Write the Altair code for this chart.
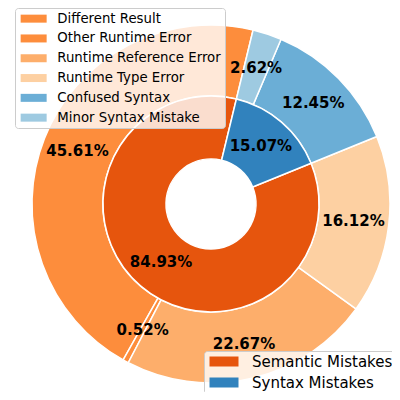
import math
import altair as alt
import pandas as pd

outer_labels = ["Different Result", "Other Runtime Error", "Runtime Reference Error",
                "Runtime Type Error", "Confused Syntax", "Minor Syntax Mistake"]
outer_values = [45.61, 0.52, 22.67, 16.12, 12.45, 2.62]
outer_colors = ["#fd8d3c", "#fd8d3c", "#fdae6b", "#fdd0a2", "#6baed6", "#9ecae1"]

inner_labels = ["Semantic Mistakes", "Syntax Mistakes"]
inner_values = [84.93, 15.07]
inner_colors = ["#e6550d", "#3182bd"]

outer_df = pd.DataFrame({
    "name": outer_labels,
    "value": outer_values,
    "ord": list(range(len(outer_labels) - 1, -1, -1)),
    "label": [f"{v:.2f}%" for v in outer_values],
})
inner_df = pd.DataFrame({
    "name": inner_labels,
    "value": inner_values,
    "ord": list(range(len(inner_labels) - 1, -1, -1)),
    "label": [f"{v:.2f}%" for v in inner_values],
})

CX, CY = 203, 196
a0 = math.radians(13.6)
theta_scale = alt.Scale(range=[a0, a0 + 2 * math.pi])

def theta():
    return alt.Theta("value:Q", stack=True, scale=theta_scale)

outer_arc = alt.Chart(outer_df).mark_arc(
    radius=179, radius2=108, x=CX, y=CY, stroke="white", strokeWidth=1.5
).encode(
    theta=theta(),
    order=alt.Order("ord:Q"),
    color=alt.Color(
        "name:N",
        scale=alt.Scale(domain=outer_labels, range=outer_colors),
        legend=alt.Legend(
            title=None, orient="none", legendX=7, legendY=0,
            fillColor="rgba(255,255,255,0.8)", strokeColor="#cccccc",
            cornerRadius=3, padding=4,
            symbolType="M-1,-0.8H4.2V0.8H-1Z", symbolSize=100,
            symbolStrokeWidth=0, symbolOpacity=1,
            labelFont="DejaVu Sans", labelFontSize=13.3, labelColor="black",
            labelOffset=25, rowPadding=5.8, labelLimit=0,
        ),
    ),
)

outer_text = alt.Chart(outer_df).mark_text(
    radius=143.5, x=CX, y=CY, font="DejaVu Sans", fontSize=15,
    fontWeight="bold", color="black", baseline="middle", align="center"
).encode(theta=theta(), order=alt.Order("ord:Q"), text="label:N")

inner_arc = alt.Chart(inner_df).mark_arc(
    radius=108, radius2=45, x=CX, y=CY, stroke="white", strokeWidth=1.5
).encode(
    theta=theta(),
    order=alt.Order("ord:Q"),
    color=alt.Color(
        "name:N",
        scale=alt.Scale(domain=inner_labels, range=inner_colors),
        legend=alt.Legend(
            title=None, orient="none", legendX=196, legendY=343,
            fillColor="rgba(255,255,255,0.8)", strokeColor="#cccccc",
            cornerRadius=3, padding=3,
            symbolType="M-1,-1H4.8V1H-1Z", symbolSize=100,
            symbolStrokeWidth=0, symbolOpacity=1,
            labelFont="DejaVu Sans", labelFontSize=15, labelColor="black",
            labelOffset=30, rowPadding=5, labelLimit=0,
        ),
    ),
)

inner_text = alt.Chart(inner_df).mark_text(
    radius=76.5, x=CX, y=CY, font="DejaVu Sans", fontSize=15,
    fontWeight="bold", color="black", baseline="middle", align="center"
).encode(theta=theta(), order=alt.Order("ord:Q"), text="label:N")

chart = alt.layer(outer_arc, inner_arc, outer_text, inner_text).resolve_scale(
    theta="independent", color="independent"
).properties(
    width=384, height=384, padding=0, autosize=alt.AutoSizeParams(type="none"),
    background="white",
).configure_view(stroke=None)

chart.save("out.html", embed_options={"renderer": "svg", "actions": False})
